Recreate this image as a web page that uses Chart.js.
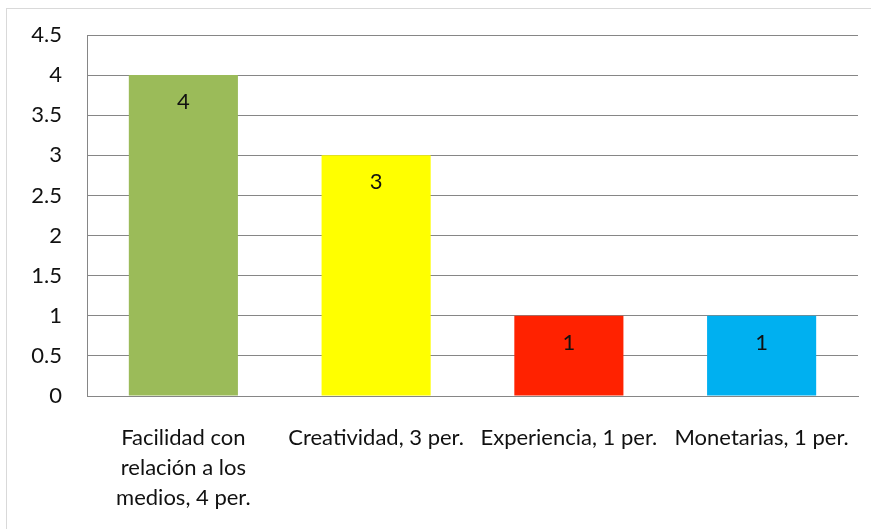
<!DOCTYPE html>
<html>
<head>
<meta charset="utf-8">
<script src="https://cdn.jsdelivr.net/npm/chart.js@4/dist/chart.umd.min.js"></script>
<style>
  html, body { margin: 0; padding: 0; background: #fff; }
  #wrap { position: relative; width: 871px; height: 529px; }
</style>
</head>
<body>
<div id="wrap"><canvas id="chart"></canvas></div>
<script>
// datos del gráfico
const categorias = [
  ['Facilidad con', 'relación a los', 'medios, 4 per.'],
  'Creatividad, 3 per.',
  'Experiencia, 1 per.',
  'Monetarias, 1 per.'
];
const valores = [4, 3, 1, 1];
const colores = ['#9BBB59', '#FFFF00', '#FF2200', '#00B0F0'];

const fuente = 'Lato, "Open Sans", sans-serif';

// marco exterior gris claro + fondo blanco
const marco = {
  id: 'marco',
  beforeDraw(chart) {
    const ctx = chart.ctx;
    ctx.save();
    ctx.fillStyle = '#fff';
    ctx.fillRect(0, 0, chart.width, chart.height);
    ctx.strokeStyle = '#d9d9d9';
    ctx.lineWidth = 1;
    ctx.strokeRect(6.5, 8.5, chart.width + 20, chart.height + 20);
    ctx.restore();
  }
};

// etiquetas de valor dentro de las barras
const etiquetas = {
  id: 'etiquetas',
  afterDatasetsDraw(chart) {
    const ctx = chart.ctx;
    const meta = chart.getDatasetMeta(0);
    ctx.save();
    ctx.font = '22px ' + fuente;
    ctx.fillStyle = '#111';
    ctx.textAlign = 'center';
    ctx.textBaseline = 'middle';
    meta.data.forEach((bar, i) => {
      ctx.fillText(String(valores[i]), bar.x, bar.y + 27);
    });
    ctx.restore();
  }
};

new Chart(document.getElementById('chart'), {
  type: 'bar',
  data: {
    labels: categorias,
    datasets: [{
      data: valores,
      backgroundColor: colores,
      borderWidth: 0,
      categoryPercentage: 1,
      barPercentage: 0.566
    }]
  },
  options: {
    responsive: true,
    maintainAspectRatio: false,
    animation: false,
    layout: { padding: { top: 35, right: 13, left: 0, bottom: 0 } },
    plugins: {
      legend: { display: false },
      tooltip: { enabled: false }
    },
    scales: {
      x: {
        grid: { display: false, drawTicks: false },
        border: { color: '#868686', width: 1 },
        ticks: {
          color: '#111',
          font: { family: fuente, size: 22, lineHeight: 1.36 },
          padding: 27,
          maxRotation: 0,
          autoSkip: false
        },
        afterFit(scale) {
          scale.height = 133;
          scale.paddingLeft = 0;
          scale.paddingRight = 0;
        }
      },
      y: {
        min: 0,
        max: 4.5,
        grid: { color: '#868686', drawTicks: false },
        border: { color: '#868686', width: 1 },
        ticks: {
          stepSize: 0.5,
          color: '#111',
          font: { family: fuente, size: 22 },
          padding: 25,
          callback: (v) => String(v)
        },
        afterFit(scale) {
          scale.width = 87;
          scale.paddingTop = 0;
          scale.paddingBottom = 0;
        }
      }
    }
  },
  plugins: [marco, etiquetas]
});
</script>
</body>
</html>
